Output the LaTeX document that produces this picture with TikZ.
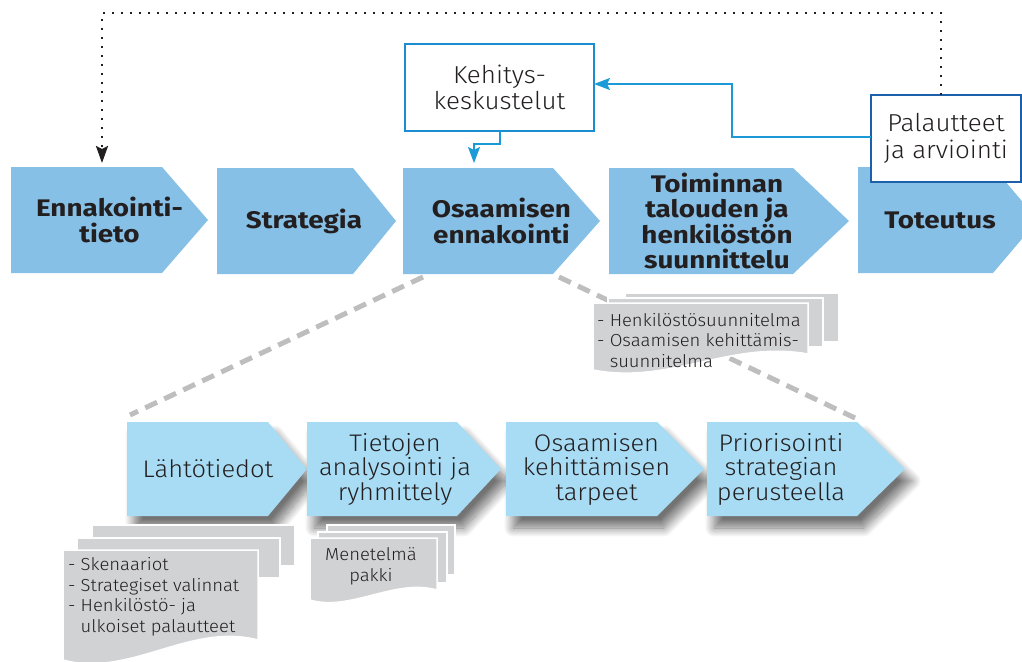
\documentclass[tikz,border=0pt]{standalone}
\usepackage{fontspec}
\setmainfont{Fira Sans}[UprightFont=* Light, BoldFont=* Bold,
  UprightFeatures={FakeStretch=1.06}, BoldFeatures={FakeStretch=1.16}]
\usetikzlibrary{arrows.meta,calc,shadows.blur}
\pgfdeclarelayer{background}
\pgfdeclarelayer{docs}
\pgfsetlayers{background,docs,main}

\definecolor{topblue}{HTML}{86C0E6}
\definecolor{lowblue}{HTML}{A8DCF4}
\definecolor{docgray}{HTML}{D1D2D4}
\definecolor{dashgray}{HTML}{BEBEBE}
\definecolor{ink}{HTML}{231F20}
\definecolor{boxblue}{HTML}{1B8CCF}
\definecolor{darkblue}{HTML}{1C5FAA}
\definecolor{lineblue}{HTML}{1B9AD7}

% fill a chevron: the node is the whole shape, #3 is the length of the point
\newcommand\chevfill[3][]{%
  \begin{pgfonlayer}{background}
    \path[#1] (#2.north west) -- ([xshift=-#3]#2.north east) -- (#2.east)
      -- ([xshift=-#3]#2.south east) -- (#2.south west) -- cycle;
  \end{pgfonlayer}}

\tikzset{
  chevbox/.style={rectangle, inner sep=0pt, outer sep=0pt},
  topfill/.style={fill=topblue},
  lowfill/.style={fill=lowblue, blur shadow={shadow xshift=7pt, shadow yshift=-12pt,
      shadow blur radius=9pt, shadow blur steps=14, shadow opacity=55}},
  toptext/.style={font=\fontsize{24}{25.5}\selectfont\bfseries, text=ink, align=center, inner sep=0pt},
  lowtext/.style={font=\fontsize{24}{24.5}\selectfont, text=ink, align=center, inner sep=0pt},
  notebox/.style={fill=white, line width=2.2pt, inner sep=0pt, outer sep=0pt,
      font=\fontsize{24.5}{26.5}\selectfont, text=ink, align=center},
  sheet/.style={fill=docgray, draw=white, line width=1.5pt},
  doctext/.style={font=\fontsize{17.4}{20.5}\selectfont, text=ink, inner sep=0pt},
  feed/.style={draw=lineblue, line width=2pt, -{Stealth[length=16pt,width=12pt,inset=3pt]}},
  dottedret/.style={draw=ink, line width=2.4pt, dash pattern=on 2.4pt off 6.6pt,
      -{Stealth[length=17pt,width=12pt,inset=3pt]}},
  graylink/.style={draw=dashgray, line width=5pt, dash pattern=on 13pt off 8pt},
}

\begin{document}
\begin{tikzpicture}[x=1pt,y=-1pt]
\useasboundingbox (0,0) rectangle (1022,661);

% upper process chain
\node[chevbox, minimum width=197pt, minimum height=106pt] (e1) at (109.5,220) {};
\node[chevbox, minimum width=179pt, minimum height=106pt] (e2) at (306.5,221) {};
\node[chevbox, minimum width=197pt, minimum height=106pt] (e3) at (501.5,221) {};
\node[chevbox, minimum width=240pt, minimum height=106pt] (e4) at (729,221) {};
\node[chevbox, minimum width=180pt, minimum height=106pt] (e5) at (948,220) {};
\chevfill[topfill]{e1}{46pt}
\chevfill[topfill]{e2}{43pt}
\chevfill[topfill]{e3}{47pt}
\chevfill[topfill]{e4}{56pt}
\chevfill[topfill]{e5}{45pt}
\node[toptext] (e1t) at (e1) {Ennakointi-\\tieto};
\node[toptext] (e2t) at ([xshift=-2.5pt]e2) {Strategia};
\node[toptext] (e3t) at (e3) {Osaamisen\\ennakointi};
\node[toptext] (e4t) at ([xshift=-12pt]e4) {Toiminnan\\talouden ja\\henkilöstön\\suunnittelu};
\node[toptext] (e5t) at ([xshift=-8pt]e5) {Toteutus};

% lower process chain
\node[chevbox, minimum width=180pt, minimum height=94pt] (l1) at (217,469) {};
\node[chevbox, minimum width=194pt, minimum height=94pt] (l2) at (404,469) {};
\node[chevbox, minimum width=198pt, minimum height=94pt] (l3) at (605,469) {};
\node[chevbox, minimum width=198pt, minimum height=94pt] (l4) at (806,469) {};
\chevfill[lowfill]{l1}{39pt}
\chevfill[lowfill]{l2}{44pt}
\chevfill[lowfill]{l3}{47pt}
\chevfill[lowfill]{l4}{48pt}
\node[lowtext] (l1t) at ([xshift=-9pt]l1) {Lähtötiedot};
\node[lowtext] (l2t) at ([xshift=-9pt]l2) {Tietojen\\analysointi ja\\ryhmittely};
\node[lowtext] (l3t) at ([xshift=-8.5pt]l3) {Osaamisen\\kehittämisen\\tarpeet};
\node[lowtext] (l4t) at ([xshift=-25pt]l4) {Priorisointi\\strategian\\perusteella};

% links from the upper step to the lower chain
\begin{pgfonlayer}{background}
  \draw[graylink] ([xshift=20pt,yshift=-3pt]e3.south west) -- ([xshift=3pt,yshift=7pt]l1.north west);
  \draw[graylink] ([xshift=-41pt,yshift=-3pt]e3.south east) -- ([xshift=-50pt,yshift=4pt]l4.north east);
\end{pgfonlayer}

% document stacks
\begin{pgfonlayer}{docs}
  \draw[sheet] (625,293) rectangle (839,342);
  \draw[sheet] (608,298) rectangle (823,347);
  \draw[sheet] (593,303) -- (808,303) -- (808,354)
     .. controls (730,340) and (670,385) .. (593,370) -- cycle;

  \draw[sheet] (92,525) rectangle (295,566);
  \draw[sheet] (77,538) rectangle (280,578);
  \draw[sheet] (63,550) -- (258,550) -- (258,640)
     .. controls (190,622) and (130,678) .. (63,660) -- cycle;

  \draw[sheet] (327,525) rectangle (455,575);
  \draw[sheet] (318,532) rectangle (447,583);
  \draw[sheet] (310,538) -- (437,538) -- (437,590)
     .. controls (395,578) and (350,612) .. (310,600) -- cycle;
\end{pgfonlayer}
\node[doctext, anchor=north west, align=left] (d1) at (597,313)
  {- Henkilöstösuunnitelma\\- Osaamisen kehittämis-\\\phantom{- }suunnitelma};
\node[doctext, anchor=north west, align=left] (d2) at (68,557.5)
  {- Skenaariot\\- Strategiset valinnat\\- Henkilöstö- ja\\\phantom{- }ulkoiset palautteet};
\node[doctext, anchor=north, align=center] (d3) at (371,547.5) {Menetelmä\\pakki};

% feedback boxes
\node[notebox, draw=boxblue, minimum width=189pt, minimum height=87pt] (keh) at (499.5,87.5)
  {Kehitys-\\keskustelut};
\node[notebox, draw=darkblue, minimum width=150pt, minimum height=87pt] (pal) at (946,138.5)
  {Palautteet\\ja arviointi};

% connectors
\draw[feed, shorten >=5pt] (keh.south) -- ++(0,13) -| ([xshift=-27.5pt]e3.north);
\draw[feed] ([yshift=1.5pt]pal.west) -- ++(-139,0) |- ([yshift=3.5pt]keh.east);
\draw[dottedret, shorten >=4pt] ([xshift=-5pt]pal.north) -- ++(0,-82) -| ([xshift=-7.5pt]e1.north);
\end{tikzpicture}
\end{document}
